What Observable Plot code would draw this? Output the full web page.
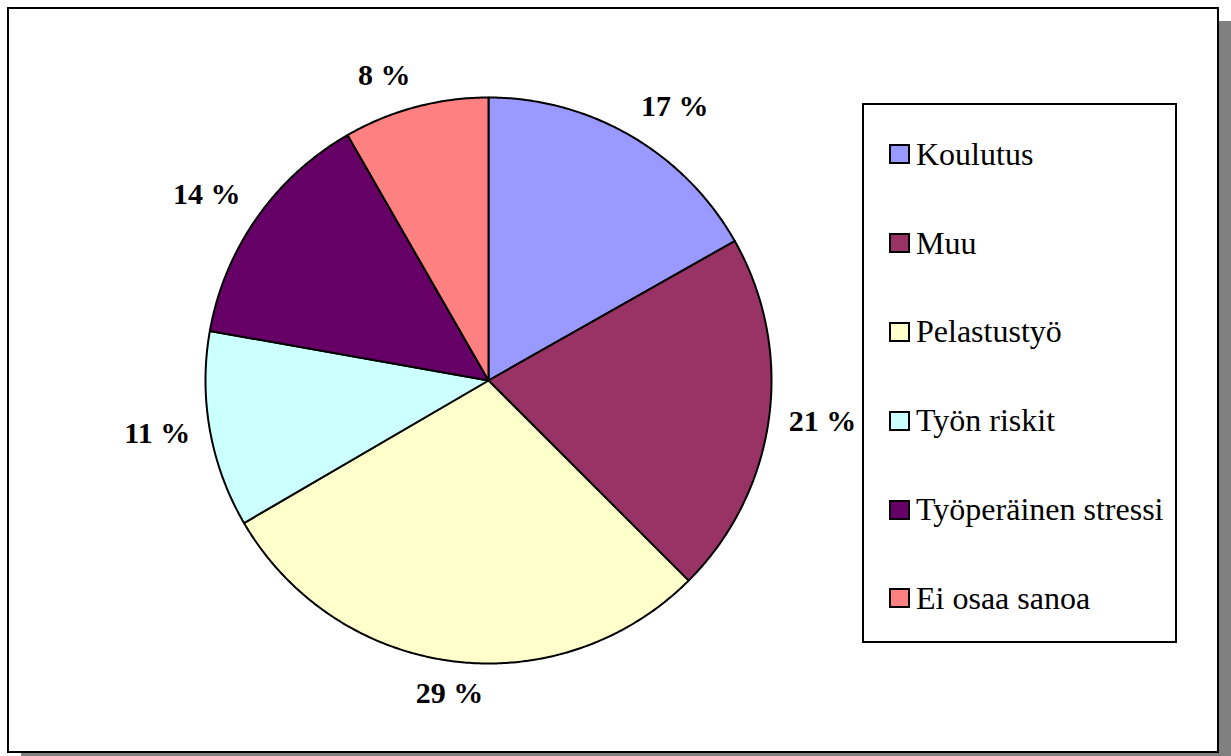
<!DOCTYPE html>
<html>
<head>
<meta charset="utf-8">
<script src="https://cdn.jsdelivr.net/npm/d3@7"></script>
<script src="https://cdn.jsdelivr.net/npm/@observablehq/plot@0.6"></script>
<style>
  html, body { margin: 0; padding: 0; background: #fff; }
  body { width: 1231px; height: 756px; position: relative; overflow: hidden; font-family: "Liberation Serif", "Times New Roman", Times, serif; }
  #frame { position: absolute; left: 7px; top: 7px; width: 1212px; height: 746px; box-sizing: border-box; border: 2px solid #000; box-shadow: 14px 14px 0 #808080; background: #fff; }
  #chart { position: absolute; left: 0; top: 0; }
  #legend { position: absolute; left: 862px; top: 103px; width: 315px; height: 540px; box-sizing: border-box; border: 2px solid #000; padding-top: 5px; background: #fff; }
  .item { height: 88.8px; display: flex; align-items: center; padding-left: 25px; font-size: 32px; color: #000; }
  .sw { width: 17px; height: 16px; border: 2px solid #000; margin-right: 6px; flex: none; }
</style>
</head>
<body>
<div id="frame"></div>
<div id="chart"></div>
<div id="legend"></div>
<script>
const categories = ["Koulutus", "Muu", "Pelastustyö", "Työn riskit", "Työperäinen stressi", "Ei osaa sanoa"];
const shares = [16.8, 20.7, 29.1, 11.2, 13.9, 8.3];
const labels = ["17 %", "21 %", "29 %", "11 %", "14 %", "8 %"];
const colors = ["#9999FF", "#993366", "#FFFFCC", "#CCFFFF", "#660066", "#FF8080"];

const pie = d3.pie().sort(null).value(d => d)(shares);

// build slice outlines (angles clockwise from north)
const slicePts = [];
pie.forEach((p, i) => {
  const a0 = p.startAngle, a1 = p.endAngle;
  const n = Math.max(2, Math.ceil((a1 - a0) / (Math.PI / 360)));
  slicePts.push({cat: categories[i], x: 0, y: 0});
  for (let k = 0; k <= n; k++) {
    const a = a0 + (a1 - a0) * k / n;
    slicePts.push({cat: categories[i], x: Math.sin(a), y: Math.cos(a)});
  }
  slicePts.push({cat: categories[i], x: 0, y: 0});
});

// label placement: box anchored just outside the rim at the slice mid-angle
const R = 283;
const fontSize = 30;
const gap = 20;
const ctx = document.createElement("canvas").getContext("2d");
ctx.font = `bold ${fontSize}px "Liberation Serif"`;
const labelData = pie.map((p, i) => {
  const a = (p.startAngle + p.endAngle) / 2;
  const s = Math.sin(a), c = Math.cos(a);
  const w = ctx.measureText(labels[i]).width;
  const h = 24;
  const ax = Math.abs(s) > 0.2 ? Math.sign(s) : 0;
  const ay = Math.abs(c) > 0.2 ? Math.sign(c) : 0;
  const px = s * (R + gap) + ax * w / 2;
  const py = c * (R + gap) + ay * h / 2;
  return {label: labels[i], x: px / R, y: py / R};
});

const chart = Plot.plot({
  width: 1231,
  height: 756,
  margin: 0,
  x: {type: "linear", domain: [-1, 1], range: [488 - R, 488 + R], axis: null},
  y: {type: "linear", domain: [-1, 1], range: [380 + R, 380 - R], axis: null},
  color: {domain: categories, range: colors},
  style: {background: "transparent", overflow: "visible"},
  marks: [
    Plot.line(slicePts, {x: "x", y: "y", z: "cat", fill: "cat", stroke: "#000", strokeWidth: 2, strokeLinejoin: "round", curve: "linear"}),
    Plot.text(labelData, {x: "x", y: "y", text: "label", fontSize: fontSize, fontWeight: "bold", fontFamily: "Liberation Serif", fill: "#000", textAnchor: "middle", lineAnchor: "middle"})
  ]
});
document.getElementById("chart").appendChild(chart);

const legend = document.getElementById("legend");
categories.forEach((c, i) => {
  const item = document.createElement("div");
  item.className = "item";
  const sw = document.createElement("span");
  sw.className = "sw";
  sw.style.background = colors[i];
  const t = document.createElement("span");
  t.textContent = c;
  item.appendChild(sw);
  item.appendChild(t);
  legend.appendChild(item);
});
</script>
</body>
</html>
